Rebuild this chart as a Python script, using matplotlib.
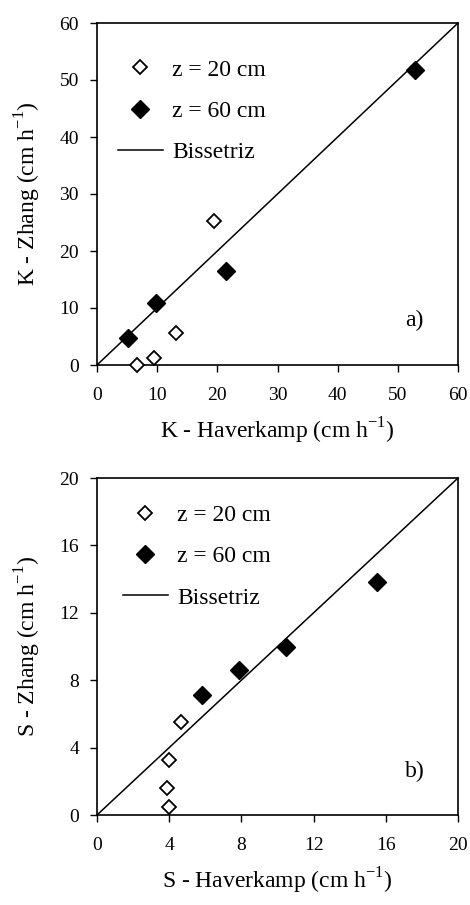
import matplotlib.pyplot as plt

plt.rcParams['font.family'] = ['Liberation Serif', 'DejaVu Serif']
plt.rcParams['mathtext.fontset'] = 'custom'
plt.rcParams['mathtext.rm'] = 'Liberation Serif'

# painel a) condutividade K
k_hav_20 = [6.6, 9.5, 13.1, 19.4]
k_zh_20 = [0.0, 1.2, 5.6, 25.3]
k_hav_60 = [5.1, 9.8, 21.4, 52.8]
k_zh_60 = [4.8, 10.8, 16.5, 51.7]
k_ticks = [0, 10, 20, 30, 40, 50, 60]

# painel b) sortividade S
s_hav_20 = [3.97, 3.86, 3.97, 4.65]
s_zh_20 = [0.49, 1.58, 3.26, 5.54]
s_hav_60 = [5.82, 7.87, 10.47, 15.5]
s_zh_60 = [7.12, 8.6, 9.95, 13.8]
s_ticks = [0, 4, 8, 12, 16, 20]

fig = plt.figure(figsize=(4.7, 9.05), dpi=100)
W, H = 470, 905
ax1 = fig.add_axes([97/W, 1-365/H, 361/W, 342/H])
ax2 = fig.add_axes([97/W, 1-815/H, 361/W, 337/H])

def painel(ax, x20, y20, x60, y60, ticks, xlab, ylab, letra, leg_pos):
    lim = ticks[-1]
    ax.plot(x20, y20, 'D', mfc='white', mec='black', mew=1.3, ms=7.5, label='z = 20 cm', clip_on=False, zorder=3)
    ax.plot(x60, y60, 'D', mfc='black', mec='black', ms=9, label='z = 60 cm', clip_on=False, zorder=3)
    ax.plot([0, lim], [0, lim], '-', color='black', lw=1.1, label='Bissetriz')
    ax.set_xlim(0, lim); ax.set_ylim(0, lim)
    ax.set_xticks(ticks); ax.set_yticks(ticks)
    ax.tick_params(direction='out', length=5, width=1, labelsize=14)
    ax.tick_params(axis='x', pad=11)
    ax.tick_params(axis='y', pad=8)
    for s in ax.spines.values():
        s.set_linewidth(1.2)
    ax.set_xlabel(xlab, fontsize=17, labelpad=8)
    ax.set_ylabel(ylab, fontsize=17, labelpad=12)
    ax.text(0.88, 0.13, letra, transform=ax.transAxes, fontsize=17, ha='center', va='center')
    ax.legend(loc='upper left', frameon=False, fontsize=17, handlelength=1.9, handletextpad=0.4,
              labelspacing=0.84, borderaxespad=0, bbox_to_anchor=leg_pos)

painel(ax1, k_hav_20, k_zh_20, k_hav_60, k_zh_60, k_ticks,
       'K - Haverkamp (cm h$^{\\mathregular{-1}}$)', 'K - Zhang (cm h$^{\\mathregular{-1}}$)', 'a)', (0.032, 0.922))
painel(ax2, s_hav_20, s_zh_20, s_hav_60, s_zh_60, s_ticks,
       'S - Haverkamp (cm h$^{\\mathregular{-1}}$)', 'S - Zhang (cm h$^{\\mathregular{-1}}$)', 'b)', (0.046, 0.95))

fig.savefig('out.png', dpi=100)
